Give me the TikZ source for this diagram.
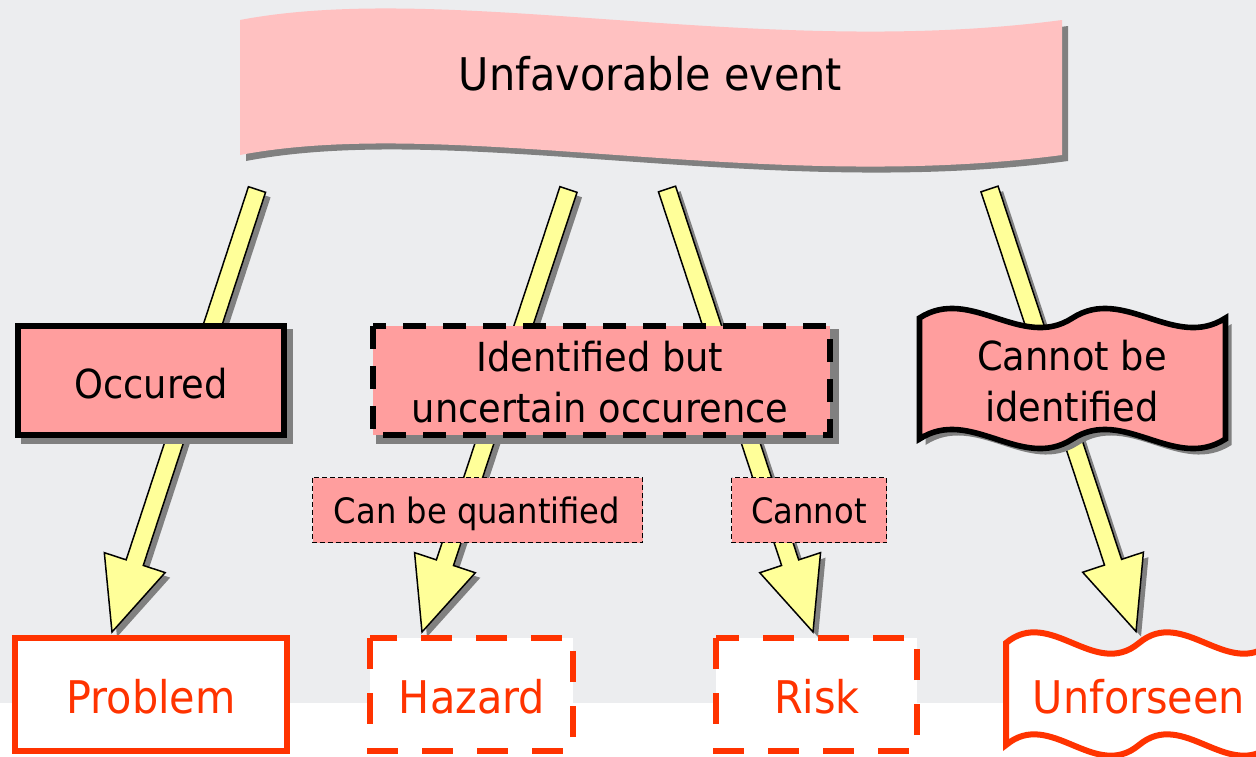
\documentclass[tikz,border=0pt]{standalone}
\usepackage{fontspec}
\setmainfont{DejaVu Sans}[FakeStretch=0.92]
\usetikzlibrary{calc}
\definecolor{bggray}{HTML}{ECEDEF}
\definecolor{bannerpink}{HTML}{FFC1C1}
\definecolor{boxpink}{HTML}{FF9E9E}
\definecolor{arrowyellow}{HTML}{FFFF99}
\definecolor{shadowgray}{HTML}{808080}
\definecolor{alertred}{HTML}{FF3300}
\newcommand{\yelarrow}[2]{%
  \coordinate (#2-base) at ($(#2)!73pt!(#1)$);
  \fill[shadowgray, transform canvas={shift={(5,5)}}]
    ($(#1)!9pt!90:(#2)$) -- ($(#2-base)!9pt!90:(#2)$) -- ($(#2-base)!32pt!90:(#2)$) -- (#2)
    -- ($(#2-base)!32pt!-90:(#2)$) -- ($(#2-base)!9pt!-90:(#2)$) -- ($(#1)!9pt!-90:(#2)$) -- cycle;
  \draw[arrowbody]
    ($(#1)!9pt!90:(#2)$) -- ($(#2-base)!9pt!90:(#2)$) -- ($(#2-base)!32pt!90:(#2)$) -- (#2)
    -- ($(#2-base)!32pt!-90:(#2)$) -- ($(#2-base)!9pt!-90:(#2)$) -- ($(#1)!9pt!-90:(#2)$) -- cycle;
}
\begin{document}
\begin{tikzpicture}[x=1pt,y=-1pt,
  arrowbody/.style={fill=arrowyellow, draw=black, line width=1.5pt, line join=miter},
  solidbox/.style={fill=boxpink, draw=black, line width=5.6pt},
  dashbox/.style={fill=boxpink, draw=black, line width=5.6pt, dash pattern=on 23pt off 17pt},
  labelbox/.style={fill=boxpink, draw=black, line width=1.2pt, dash pattern=on 5pt off 3pt},
  redsolid/.style={fill=white, draw=alertred, line width=6pt},
  reddash/.style={fill=white, draw=alertred, line width=6pt, dash pattern=on 31pt off 24pt},
  bigtext/.style={font=\fontsize{45}{54}\selectfont, anchor=base, inner sep=0pt},
  midtext/.style={font=\fontsize{40}{51}\selectfont, align=center, inner sep=0pt},
  smalltext/.style={font=\fontsize{35}{42}\selectfont, anchor=base, inner sep=0pt},
  redtext/.style={font=\fontsize{45}{54}\selectfont, text=alertred, anchor=base, inner sep=0pt}]
\useasboundingbox (0,0) rectangle (1256,756);
\clip (0,0) rectangle (1256,756);
% background
\fill[bggray] (0,0) rectangle (1256,703);
\fill[white] (0,703) rectangle (1256,756);
% banner
\fill[shadowgray, transform canvas={shift={(6,6)}}] (240,20) .. controls (450,-20) and (760,60) .. (1062,20) -- (1062,155) .. controls (760,195) and (450,115) .. (240,155) -- cycle;
\fill[bannerpink] (240,20) .. controls (450,-20) and (760,60) .. (1062,20) -- (1062,155) .. controls (760,195) and (450,115) .. (240,155) -- cycle;
% arrow end points
\coordinate (a1s) at (257,189.5);
\coordinate (a1t) at (112,632);
\coordinate (a2s) at (568.5,189.5);
\coordinate (a2t) at (422,632);
\coordinate (a3s) at (667,189);
\coordinate (a3t) at (813,632);
\coordinate (a4s) at (989.5,189);
\coordinate (a4t) at (1136,631.5);
\yelarrow{a1s}{a1t}
\yelarrow{a2s}{a2t}
\yelarrow{a3s}{a3t}
\yelarrow{a4s}{a4t}
% middle boxes
\fill[shadowgray] (21,329) rectangle (293,444);
\draw[solidbox] (17.8,325.8) rectangle (284.2,435.2);
\fill[shadowgray] (376,329) rectangle (839,444);
\draw[dashbox] (372.8,325.8) rectangle (830.2,435.2);
\fill[shadowgray, transform canvas={shift={(6,6)}}] (919.5,318) .. controls (970.5,285) and (1021.5,351) .. (1072.5,318) .. controls (1123.5,285) and (1174.5,351) .. (1225.5,318) -- (1225.5,439) .. controls (1174.5,472) and (1123.5,406) .. (1072.5,439) .. controls (1021.5,472) and (970.5,406) .. (919.5,439) -- cycle;
\draw[solidbox] (919.5,318) .. controls (970.5,285) and (1021.5,351) .. (1072.5,318) .. controls (1123.5,285) and (1174.5,351) .. (1225.5,318) -- (1225.5,439) .. controls (1174.5,472) and (1123.5,406) .. (1072.5,439) .. controls (1021.5,472) and (970.5,406) .. (919.5,439) -- cycle;
% label boxes
\draw[labelbox] (312.5,477.5) rectangle (642.5,542.5);
\draw[labelbox] (731.5,477.5) rectangle (886.5,542.5);
% bottom boxes
\draw[redsolid] (15,638) rectangle (287,751);
\draw[reddash] (370,638) rectangle (573,751);
\draw[reddash] (716,638) rectangle (917,751);
\draw[redsolid] (1006,643) .. controls (1050.3,606) and (1094.7,680) .. (1139,643) .. controls (1183.3,606) and (1227.7,680) .. (1272,643) -- (1272,745) .. controls (1227.7,782) and (1183.3,708) .. (1139,745) .. controls (1094.7,782) and (1050.3,708) .. (1006,745) -- cycle;
% texts
\node[bigtext] (event) at (650.5,90) {Unfavorable event};
\node[midtext, anchor=base] (occ) at (151,398) {Occured};
\node[midtext] (ident) at (600,382.5) {Identified but\\uncertain occurence};
\node[midtext] (noident) at (1072,381.5) {Cannot be\\identified};
\node[smalltext] (quant) at (477,523) {Can be quantified};
\node[smalltext] (cannot) at (809,523) {Cannot};
\node[redtext] (problem) at (151,713) {Problem};
\node[redtext] (hazard) at (472,713) {Hazard};
\node[redtext] (risk) at (817,713) {Risk};
\node[redtext] (unforseen) at (1139,713) {Unforseen};
\end{tikzpicture}
\end{document}
